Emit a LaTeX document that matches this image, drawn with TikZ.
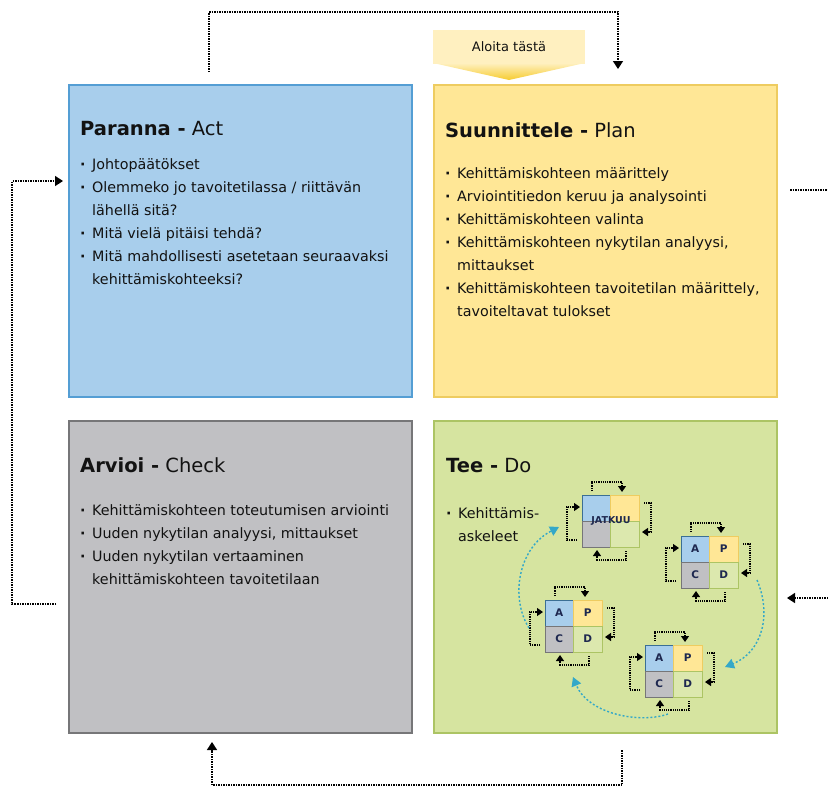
\documentclass[tikz,border=0pt]{standalone}
\usepackage{fontspec}
\setmainfont{DejaVu Sans}
\usetikzlibrary{arrows.meta}

\definecolor{actfill}{RGB}{168,206,236}
\definecolor{actline}{RGB}{84,158,212}
\definecolor{planfill}{RGB}{255,231,150}
\definecolor{planline}{RGB}{238,204,96}
\definecolor{checkfill}{RGB}{192,192,195}
\definecolor{checkline}{RGB}{118,118,120}
\definecolor{dofill}{RGB}{214,228,160}
\definecolor{doline}{RGB}{172,196,100}
\definecolor{startfill}{RGB}{255,240,192}
\definecolor{startarrow}{RGB}{246,204,48}
\definecolor{cyclecol}{RGB}{52,168,200}
\definecolor{txtcol}{RGB}{18,18,18}
\definecolor{letcol}{RGB}{30,40,80}

% Aufzaehlungspunkt und Folgezeile
\newcommand\itm[1]{\makebox[12pt][l]{\textbf{·}}#1}
\newcommand\cnt[1]{\hspace*{12pt}#1}

\tikzset{
  pics/minigrid/.style n args={4}{code={
    % Zellen A P / C D
    \path[draw=actline!70!black, fill=actfill, line width=1pt] (0,0) rectangle (28.5,26);
    \path[draw=planline, fill=planfill, line width=1pt] (28.5,0) rectangle (57,26);
    \path[draw=checkline, fill=checkfill, line width=1pt] (0,26) rectangle (28.5,52);
    \path[draw=doline, fill=dofill!85!white, line width=1pt] (28.5,26) rectangle (57,52);
    \node[miniletter] at (14.25,13) {#1};
    \node[miniletter] at (42.75,13) {#2};
    \node[miniletter] at (14.25,39) {#3};
    \node[miniletter] at (42.75,39) {#4};
    % kleine Schleifenpfeile
    \draw[minidot] (10,-4) -- (10,-13) -- (40,-13) -- (40,-3);
    \draw[minidot] (-5,45) -- (-15,45) -- (-15,12) -- (-2,12);
    \draw[minidot] (62,8) -- (69,8) -- (69,37) -- (60,37);
    \draw[minidot] (44,56) -- (44,65) -- (15,65) -- (15,55);
  }}
}

\begin{document}
\begin{tikzpicture}[x=1pt,y=-1pt,
  phasebox/.style={draw, line width=1.6pt, anchor=north west, minimum width=343pt, minimum height=312pt, inner sep=0pt},
  phasetitle/.style={anchor=base west, font=\fontsize{19.5}{22}\selectfont, inner sep=0pt, text=txtcol},
  bullets/.style={anchor=north west, align=left, font=\fontsize{14.3}{23}\selectfont, inner sep=0pt, text=txtcol},
  loopline/.style={densely dotted, line width=1.5pt, -{Triangle[width=10pt,length=8pt]}},
  loopplain/.style={densely dotted, line width=1.5pt},
  minidot/.style={densely dotted, line width=1.2pt, -{Triangle[width=8pt,length=6pt]}},
  miniletter/.style={font=\fontsize{10.5}{10}\selectfont\bfseries, text=letcol, inner sep=0pt},
  cycleline/.style={dashed, dash pattern=on 2pt off 2pt, line width=1.4pt, cyclecol, -{Triangle[width=10pt,length=9pt]}}
]
\useasboundingbox (0,0) rectangle (828,790);

% --- Phasen ---
\node[phasebox, fill=actfill, draw=actline] (act) at (68,84) {};
\node[phasebox, fill=planfill, draw=planline] (plan) at (433,84) {};
\node[phasebox, fill=checkfill, draw=checkline] (check) at (68,420) {};
\node[phasebox, fill=dofill, draw=doline] (do) at (433,420) {};

% Titel
\node[phasetitle] (acttitle) at (80,135) {\textbf{Paranna -} Act};
\node[phasetitle] (plantitle) at (445,137) {\textbf{Suunnittele -} Plan};
\node[phasetitle] (checktitle) at (80,472) {\textbf{Arvioi -} Check};
\node[phasetitle] (dotitle) at (446,472) {\textbf{Tee -} Do};

% Inhalte
\node[bullets] (actlist) at (80,158) {%
  \itm{Johtopäätökset}\\
  \itm{Olemmeko jo tavoitetilassa / riittävän}\\
  \cnt{lähellä sitä?}\\
  \itm{Mitä vielä pitäisi tehdä?}\\
  \itm{Mitä mahdollisesti asetetaan seuraavaksi}\\
  \cnt{kehittämiskohteeksi?}};
\node[bullets] (planlist) at (445,167) {%
  \itm{Kehittämiskohteen määrittely}\\
  \itm{Arviointitiedon keruu ja analysointi}\\
  \itm{Kehittämiskohteen valinta}\\
  \itm{Kehittämiskohteen nykytilan analyysi,}\\
  \cnt{mittaukset}\\
  \itm{Kehittämiskohteen tavoitetilan määrittely,}\\
  \cnt{tavoiteltavat tulokset}};
\node[bullets] (checklist) at (80,504) {%
  \itm{Kehittämiskohteen toteutumisen arviointi}\\
  \itm{Uuden nykytilan analyysi, mittaukset}\\
  \itm{Uuden nykytilan vertaaminen}\\
  \cnt{kehittämiskohteen tavoitetilaan}};
\node[bullets] (dolist) at (446,507) {%
  \itm{Kehittämis-}\\
  \cnt{askeleet}};

% --- Start ---
\shade[top color=startfill, bottom color=startarrow] (433,63) -- (585,63) -- (509,80) -- cycle;
\node[fill=startfill, minimum width=152pt, minimum height=34pt, inner sep=0pt,
      font=\fontsize{13}{14}\selectfont, text=txtcol] (start) at (509,47) {Aloita tästä};

% --- Aeussere Schleife ---
\coordinate (topout) at (209,72);
\coordinate (topin) at (618,69);
\draw[loopline] (topout) -- (209,12) -- (618,12) -- (topin);
\coordinate (leftout) at (56,604);
\coordinate (leftin) at (63,181);
\draw[loopline] (leftout) -- (12,604) -- (12,181) -- (leftin);
\coordinate (rightout) at (790,190);
\coordinate (rightedge) at (828,190);
\draw[loopplain] (rightout) -- (rightedge);
\coordinate (rightback) at (828,598);
\coordinate (rightin) at (787,598);
\draw[loopline] (rightback) -- (rightin);
\coordinate (bottomout) at (622,750);
\coordinate (bottomin) at (212,742);
\draw[loopline] (bottomout) -- (622,785) -- (212,785) -- (bottomin);

% --- Kehittaemisaskeleet ---
\pic (g1) at (582,495) {minigrid={}{}{}{}};
\pic (g2) at (681,536) {minigrid={A}{P}{C}{D}};
\pic (g3) at (545,600) {minigrid={A}{P}{C}{D}};
\pic (g4) at (645,645) {minigrid={A}{P}{C}{D}};
\node[font=\fontsize{9.5}{10}\selectfont\bfseries, text=letcol, inner sep=0pt] (jatkuu) at (611,521) {JATKUU};

\coordinate (c3out) at (529,628);
\coordinate (c1in) at (559,527);
\draw[cycleline] (c3out) .. controls (510,598) and (518,548) .. (c1in);
\coordinate (c2out) at (757,580);
\coordinate (c4in) at (725,667);
\draw[cycleline] (c2out) .. controls (772,615) and (762,652) .. (c4in);
\coordinate (c4out) at (668,714);
\coordinate (c3in) at (573,677);
\draw[cycleline] (c4out) .. controls (640,724) and (588,714) .. (c3in);
\end{tikzpicture}
\end{document}
